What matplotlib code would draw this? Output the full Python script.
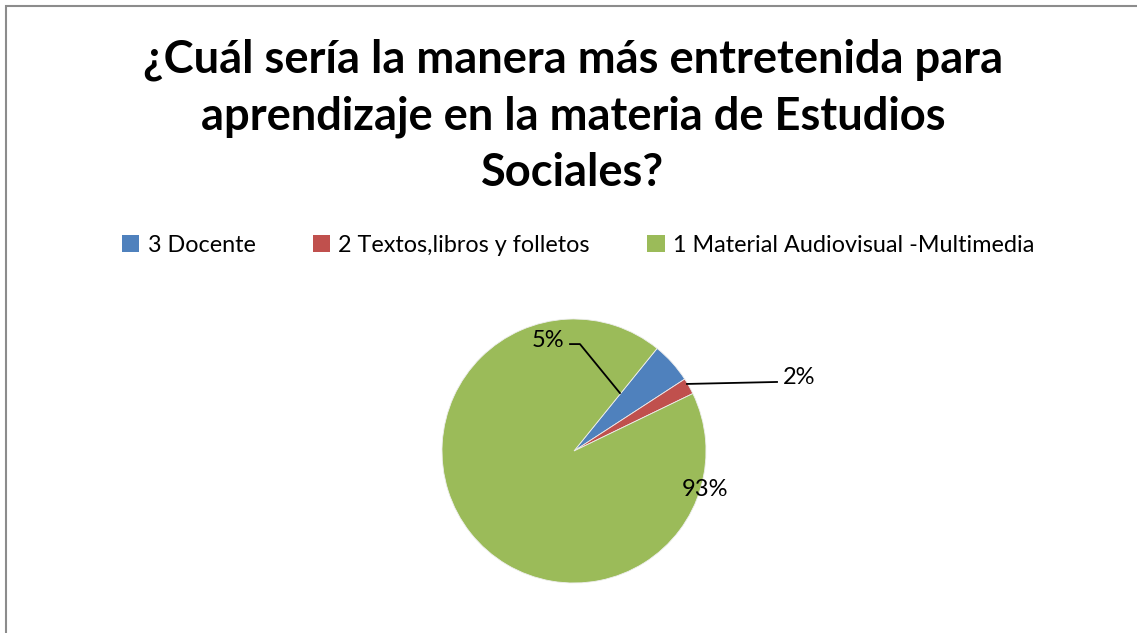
import matplotlib.pyplot as plt
from matplotlib.patches import Rectangle

# data
categories = ['3 Docente', '2 Textos,libros y folletos', '1 Material Audiovisual -Multimedia']
values = [5, 2, 93]
pct_labels = ['5%', '2%', '93%']
colors = ['#4F81BD', '#C0504D', '#9BBB59']

W, H = 1137, 633
fig = plt.figure(figsize=(W / 100, H / 100), dpi=100)
fig.patch.set_facecolor('white')

# grey chart frame (runs off right/bottom edge)
fig.add_artist(Rectangle((6 / W, -0.05), 1.1, 1 - 5.5 / H + 0.05, transform=fig.transFigure,
                         fill=False, edgecolor='#8C8C8C', linewidth=1.5))

# title
fig.text(573 / W, 1 - 116 / H,
         '¿Cuál sería la manera más entretenida para\naprendizaje en la materia de Estudios\nSociales?',
         ha='center', va='center', fontsize=32.6, fontweight='bold', family='Lato',
         linespacing=1.42)

# pie axes: centre (574, 451), radius 132 px
cx, cy, r = 574, 451, 132
ax = fig.add_axes([(cx - r) / W, (H - cy - r) / H, 2 * r / W, 2 * r / H])
wedges, _ = ax.pie(values, colors=colors, startangle=51, counterclock=False,
                   wedgeprops=dict(linewidth=0.6, edgecolor='#EEEEEE'))
ax.set_xlim(-1, 1)
ax.set_ylim(-1, 1)
ax.set_aspect('equal')

lab_font = dict(fontsize=17, family='Lato')
# 5%
ax.text(-0.197, 0.84, pct_labels[0], ha='center', va='center', **lab_font)
ax.plot([-0.03, 0.045, 0.348], [0.81, 0.81, 0.439], color='black', lw=1.3, clip_on=False)
# 2%
ax.text(1.583, 0.56, pct_labels[1], ha='left', va='center', **lab_font)
ax.plot([1.538, 0.856], [0.523, 0.508], color='black', lw=1.3, clip_on=False)
# 93%
ax.text(0.99, -0.295, pct_labels[2], ha='center', va='center', **lab_font)

# legend
leg = fig.legend(wedges, categories, loc='center', bbox_to_anchor=(578 / W, 1 - 245 / H),
                 ncol=3, frameon=False, handlelength=0.75, handleheight=0.75, handletextpad=0.35,
                 columnspacing=2.45, prop=dict(family='Lato', size=16.8))
for h in leg.legend_handles:
    h.set_edgecolor('none')

fig.savefig('out.png', dpi=100, facecolor='white')
